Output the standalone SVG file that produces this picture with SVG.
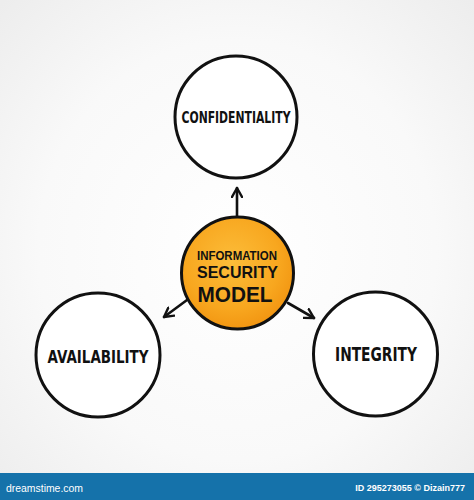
<svg xmlns="http://www.w3.org/2000/svg" width="474" height="500" viewBox="0 0 474 500">
<defs>
<radialGradient id="bg" cx="50%" cy="50%" r="70%">
<stop offset="0" stop-color="#ffffff"/>
<stop offset="0.6" stop-color="#f9f9f9"/>
<stop offset="1" stop-color="#ededed"/>
</radialGradient>
<radialGradient id="org" cx="45%" cy="40%" r="60%">
<stop offset="0" stop-color="#fcbd3a"/>
<stop offset="0.7" stop-color="#f8a71f"/>
<stop offset="1" stop-color="#f29612"/>
</radialGradient>
<marker id="arr" viewBox="0 0 12 12" refX="10" refY="6" markerWidth="12" markerHeight="12" markerUnits="userSpaceOnUse" orient="auto">
<path d="M1,1 L10,6 L1,11" fill="none" stroke="#111" stroke-width="2.4" stroke-linecap="round" stroke-linejoin="round"/>
</marker>
</defs>
<style>
.c{fill:#fff;stroke:#111;stroke-width:3}
.t{font-family:"DejaVu Sans","Liberation Sans",sans-serif;font-weight:bold;fill:#111;text-anchor:middle}
.m{font-family:"Liberation Sans",sans-serif;font-weight:bold;fill:#111;text-anchor:middle}
.a{stroke:#111;stroke-width:2.6;fill:none;stroke-linecap:round;marker-end:url(#arr)}
</style>
<rect width="474" height="500" fill="url(#bg)"/>
<g id="connectors">
<line class="a" x1="237" y1="216" x2="237" y2="188"/>
<line class="a" x1="187" y1="300" x2="164" y2="317"/>
<line class="a" x1="288" y1="303" x2="314" y2="318"/>
</g>
<g id="confidentiality">
<circle class="c" cx="236" cy="117" r="61"/>
<text class="t" x="236" y="123" font-size="15.5" textLength="109" lengthAdjust="spacingAndGlyphs">CONFIDENTIALITY</text>
</g>
<g id="availability">
<circle class="c" cx="98" cy="355" r="62"/>
<text class="t" x="98" y="363" font-size="17.5" textLength="101" lengthAdjust="spacingAndGlyphs">AVAILABILITY</text>
</g>
<g id="integrity">
<circle class="c" cx="375.5" cy="354" r="62"/>
<text class="t" x="376" y="361" font-size="19" textLength="82" lengthAdjust="spacingAndGlyphs">INTEGRITY</text>
</g>
<g id="center">
<circle cx="237.5" cy="273" r="56" fill="url(#org)" stroke="#111" stroke-width="3"/>
<text class="m" x="237" y="259.5" font-size="13.5" textLength="80" lengthAdjust="spacingAndGlyphs">INFORMATION</text>
<text class="m" x="237.5" y="278" font-size="17" textLength="81" lengthAdjust="spacingAndGlyphs">SECURITY</text>
<text class="m" x="235" y="302" font-size="22" textLength="75" lengthAdjust="spacingAndGlyphs">MODEL</text>
</g>
<g id="footer">
<rect x="0" y="473" width="474" height="27" fill="#1572aa"/>
<text x="6" y="492" font-family="'Liberation Sans',sans-serif" font-size="11.5" fill="#fff" textLength="77" lengthAdjust="spacingAndGlyphs">dreamstime.com</text>
<text x="465" y="491" font-family="'Liberation Sans',sans-serif" font-size="9" font-weight="bold" fill="#fff" text-anchor="end">ID 295273055 © Dizain777</text>
</g>
</svg>
